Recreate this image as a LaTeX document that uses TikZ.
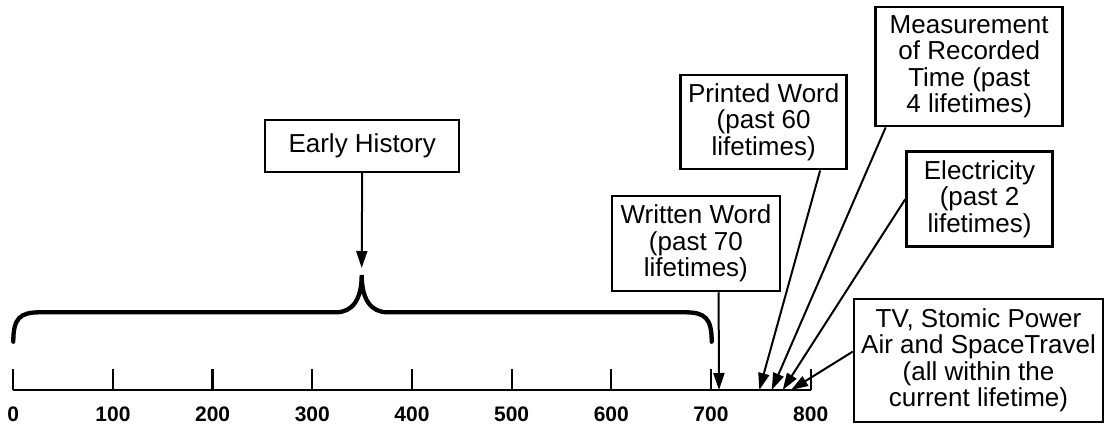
\documentclass[tikz,border=0pt]{standalone}
\usepackage{fontspec}
\setmainfont{Liberation Sans}
\usetikzlibrary{arrows.meta,calc}
\begin{document}
\begin{tikzpicture}[x=1pt,y=-1pt,
  box/.style={draw,line width=2.5pt,align=center,inner sep=0pt,
    font=\fontsize{26}{26.5}\selectfont},
  link/.style={line width=2pt,-{Triangle[length=17pt,width=11pt]}},
  axisline/.style={line width=2.3pt},
  ticklabel/.style={font=\fontsize{21}{21}\selectfont\bfseries,anchor=base},
  bracepath/.style={line width=4.3pt,line cap=round}]
\useasboundingbox (0,0) rectangle (1105,425);

% time axis with ticks every 100
\draw[axisline] (13.3,390) -- (810.7,390);
\foreach \v/\t in {0/0,1/100,2/200,3/300,4/400,5/500,6/600,7/700,8/800}{
  \draw[axisline] ({13.3+99.67*\v},390) -- ({13.3+99.67*\v},369);
  \node[ticklabel] (lab\v) at ({13.3+99.67*\v},421.7) {\t};
}

% brace spanning early history
\draw[bracepath] (13.3,341.7) .. controls (13.3,318) and (20,312.3) .. (40,312.3)
  -- (336,312.3) .. controls (352,312.3) and (361.7,300) .. (361.7,275)
  .. controls (361.7,300) and (371.4,312.3) .. (387.4,312.3)
  -- (685,312.3) .. controls (705,312.3) and (711.7,318) .. (711.7,341.7);
\coordinate (braceTip) at (361.7,268);

% labelled boxes
\node[box,minimum width=194pt,minimum height=52pt] (early) at (362.2,145.9) {Early History};
\node[box,minimum width=168pt,minimum height=95pt] (written) at (695.9,243.5)
  {Written Word\\(past 70\\lifetimes)};
\node[box,minimum width=166pt,minimum height=94pt] (printed) at (763.7,122.2)
  {Printed Word\\(past 60\\lifetimes)};
\node[box,minimum width=187pt,minimum height=119pt] (measure) at (969.2,66.7)
  {Measurement\\of Recorded\\Time (past\\4 lifetimes)};
\node[box,minimum width=146pt,minimum height=95pt] (elec) at (979.5,199.2)
  {Electricity\\(past 2\\lifetimes)};
\node[box,minimum width=249pt,minimum height=123pt] (tv) at (978.5,360.4)
  {TV, Stomic Power\\Air and SpaceTravel\\(all within the\\current lifetime)};

% points on the axis
\coordinate (tWritten) at (719,390);
\coordinate (tPrinted) at (759.3,390);
\coordinate (tMeasure) at (771.7,390);
\coordinate (tElec) at (782.7,390);
\coordinate (tTv) at (791,390);

% connectors
\draw[link] (early.south) -- (braceTip);
\draw[link] ($(written.south west)!0.633!(written.south east)$) -- (tWritten);
\draw[link] ($(printed.south west)!0.835!(printed.south east)$) -- (tPrinted);
\draw[link] ($(measure.south west)!0.059!(measure.south east)$) -- (tMeasure);
\draw[link] (elec.west) -- (tElec);
\draw[link] ($(tv.north west)!0.43!(tv.south west)$) -- (tTv);
\end{tikzpicture}
\end{document}
